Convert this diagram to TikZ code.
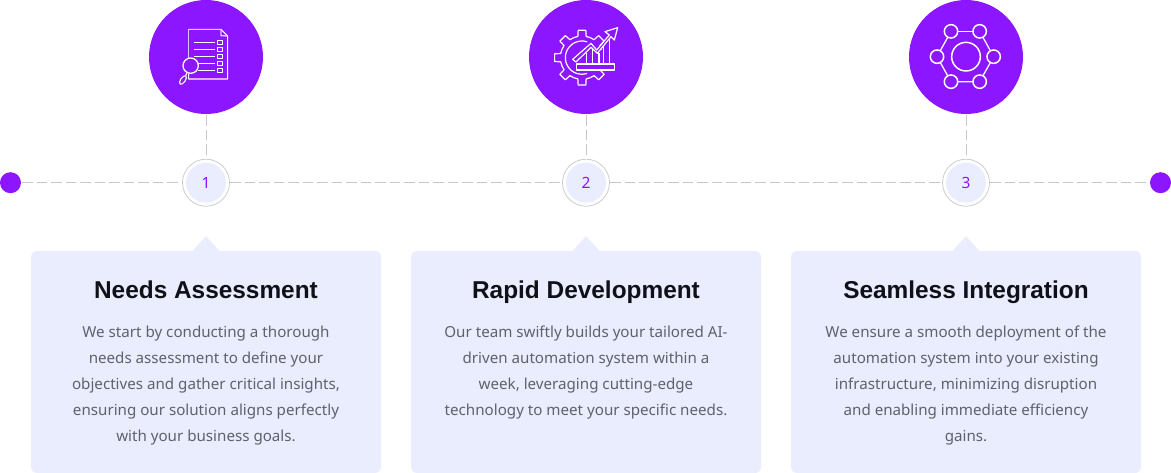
\documentclass[tikz,border=0pt]{standalone}
\usetikzlibrary{calc}
\usepackage{fontspec}
\setmainfont{Noto Sans}
\newfontfamily\titlefont{Liberation Sans}
\definecolor{brand}{HTML}{8B16FF}
\definecolor{pale}{HTML}{EAEDFE}
\definecolor{dashc}{HTML}{C6C6C6}
\definecolor{bodyc}{HTML}{5F616B}
\definecolor{titlec}{HTML}{101018}
\tikzset{
  x=1pt,y=-1pt,
  bigcirc/.style={circle,fill=brand,minimum size=114pt,inner sep=0pt,outer sep=1.5pt},
  endcap/.style={circle,fill=brand,minimum size=21pt,inner sep=0pt,outer sep=1pt},
  badge/.style={circle,draw=black!20,line width=0.8pt,fill=white,minimum size=47pt,inner sep=0pt,outer sep=0.5pt},
  badgein/.style={circle,fill=pale,minimum size=40pt,inner sep=0pt,text=brand,font=\fontsize{15.5}{16}\selectfont},
  link/.style={draw=dashc,line width=0.9pt,dash pattern=on 10.5pt off 4pt},
  cardbox/.style={fill=pale,rounded corners=6pt},
  cardtitle/.style={font=\fontsize{24.4}{26}\selectfont\titlefont\bfseries,text=titlec,inner sep=0pt,anchor=base},
  cardbody/.style={font=\fontsize{15.15}{26}\selectfont,text=bodyc,align=center,inner sep=0pt,anchor=north},
  ic/.style={draw=white,line width=1.1pt,line join=round,fill=none},
  icp/.style={draw=white!75!brand,line width=1.3pt,line join=round,fill=none},
  hexdot/.style={circle,draw=white,line width=1.5pt,fill=none,minimum size=13.4pt,inner sep=0pt,outer sep=0.3pt},
  hexline/.style={draw=white,line width=1.3pt},
}
\begin{document}
\begin{tikzpicture}
\useasboundingbox (0,0) rectangle (1171,473);
% nodes
\node[endcap] (startdot) at (10.5,182.7) {};
\node[endcap] (enddot) at (1160.5,182.7) {};
\foreach \n/\cx in {1/206,2/586,3/966}{
  \node[bigcirc] (big\n) at (\cx,57) {};
  \node[badge] (num\n) at (\cx,182.7) {};
  \node[badgein] (numin\n) at (\cx,182.7) {\n};
  \fill[cardbox] (\cx-175,251) rectangle (\cx+175,473);
  \fill[pale] (\cx-14,251.5) -- (\cx,236) -- (\cx+14,251.5) -- cycle;
}
% connectors
\draw[link] (startdot) -- (num1);
\draw[link] (num1) -- (num2);
\draw[link] (num2) -- (num3);
\draw[link] (num3) -- (enddot);
\draw[link] (big1) -- (num1);
\draw[link] (big2) -- (num2);
\draw[link] (big3) -- (num3);
% text
\node[cardtitle] (t1) at (206,298.7) {Needs Assessment};
\node[cardtitle] (t2) at (586,298.7) {Rapid Development};
\node[cardtitle] (t3) at (966,298.7) {Seamless Integration};
\node[cardbody] (b1) at (206,325.3) {We start by conducting a thorough\\needs assessment to define your\\objectives and gather critical insights,\\ensuring our solution aligns perfectly\\with your business goals.};
\node[cardbody] (b2) at (586,325.3) {Our team swiftly builds your tailored AI-\\driven automation system within a\\week, leveraging cutting-edge\\technology to meet your specific needs.};
\node[cardbody] (b3) at (966,325.3) {We ensure a smooth deployment of the\\automation system into your existing\\infrastructure, minimizing disruption\\and enabling immediate efficiency\\gains.};
% icon 1: document (units: 1/3 px)
\begin{scope}[shift={(140,0)},scale=1/3]
  \draw[ic] (146,88) -- (243,88) -- (263,108) -- (263,237) -- (146,237) -- (146,222);
  \draw[icp] (146,174) -- (146,88) -- (243,88);
  \draw[icp] (243,88) -- (243,107) -- (263,108);
  \foreach \yy in {127,148,169,190,211}{
    \draw[ic] (233,\yy-6.5) rectangle ++(14,13);
  }
  \draw[ic] (162,127) -- (226,127);
  \draw[ic] (162,148) -- (226,148);
  \draw[ic] (162,169) -- (226,169);
  \draw[ic] (175,190) -- (226,190);
  \draw[ic] (175,211) -- (226,211);
  \draw[ic,line width=1.3pt] (152,197) circle (23);
  \draw[ic] (141,218) -- (137,227);
  \draw[ic,rotate around={-35:(129,240)}] (129,240) ellipse (7 and 15);
\end{scope}
% icon 2: gear and arrow (units: 1/3 px)
\begin{scope}[shift={(520,0)},scale=1/3]
  \foreach \a in {45,90,...,315}{
    \draw[ic,line width=1.2pt] ($(186,173)+(\a-22.5:65)$) arc[start angle=\a-22.5,end angle=\a-11,radius=65]
      -- ($(186,173)+(\a-8:83)$) -- ($(186,173)+(\a+8:83)$) -- ($(186,173)+(\a+11:65)$)
      arc[start angle=\a+11,end angle=\a+22.5,radius=65];
  }
  \draw[ic,line width=1.2pt] ($(186,173)+(-72:50)$) arc[start angle=-72,end angle=-288,radius=50];
  \foreach \xx/\yy in {200/158,218/146,237/158,250/136,269/110}{
    \draw[draw=brand,line width=2pt] (\xx,192) -- (\xx,\yy);
    \draw[ic] (\xx,192) -- (\xx,\yy);
  }
  \draw[ic,line width=1.2pt,fill=brand] (158,178) -- (213,130) -- (230,150) -- (268,105) -- (255,95) -- (293,83) -- (283,120) -- (273,110) -- (232,160) -- (213,142) -- (168,186) -- cycle;
  \draw[ic,line width=1.2pt,fill=brand] (170,192) rectangle (283,210);
\end{scope}
% icon 3: hexagon network (units: 1/3 px)
\begin{scope}[shift={(900,0)},scale=1/3]
  \draw[ic,line width=1.5pt] (198,170) circle (43);
  \node[hexdot] (h1) at (153,94) {};
  \node[hexdot] (h2) at (239,94) {};
  \node[hexdot] (h3) at (281,170) {};
  \node[hexdot] (h4) at (239,245) {};
  \node[hexdot] (h5) at (153,245) {};
  \node[hexdot] (h6) at (111,170) {};
  \draw[hexline] (h1) -- (h2);
  \draw[hexline] (h2) -- (h3);
  \draw[hexline] (h3) -- (h4);
  \draw[hexline] (h4) -- (h5);
  \draw[hexline] (h5) -- (h6);
  \draw[hexline] (h6) -- (h1);
\end{scope}
\end{tikzpicture}
\end{document}
